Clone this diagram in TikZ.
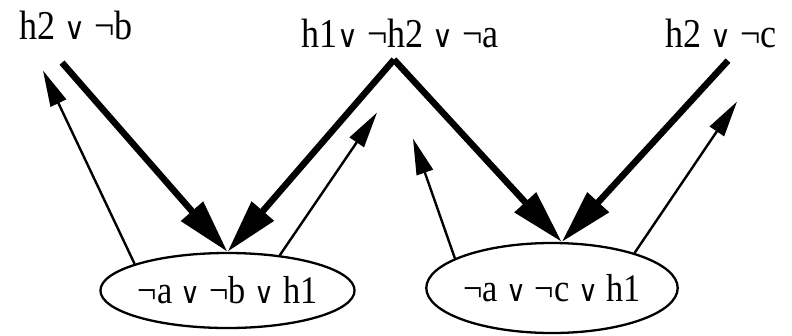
\documentclass[tikz,border=0pt]{standalone}
\usepackage{fontspec}
\setmainfont{Liberation Serif}[FakeStretch=0.88]
\newfontfamily\symfont{DejaVu Sans}
\usetikzlibrary{shapes.geometric,arrows.meta,calc}
\newcommand{\orsym}{{\symfont\scalebox{0.7}[0.75]{∨}}}
\tikzset{
  lit/.style ={anchor=base, inner sep=0pt, font=\fontsize{41}{44}\selectfont},
  cls/.style ={ellipse, draw, line width=2.3pt, inner sep=0pt,
               font=\fontsize{39}{42}\selectfont},
  fl/.style  ={-{Triangle[length=54pt,width=28pt]}, line width=6.5pt},
  bk/.style  ={-{Triangle[length=36pt,width=17pt]}, line width=2.4pt}
}

\begin{document}
\begin{tikzpicture}[x=1pt,y=-1pt]
  \useasboundingbox (0,0) rectangle (792,335);
  % clauses
  \node[lit] (hb)  at (76,39)  {h2 \orsym{} ¬b};
  \node[lit] (hab) at (400,47) {h1\orsym{} ¬h2 \orsym{} ¬a};
  \node[lit] (hc)  at (721,47) {h2 \orsym{} ¬c};
  \node[cls,minimum width=249pt,minimum height=75pt] (lo) at (227.5,290.5)
    {¬a \orsym{} ¬b \orsym{} h1};
  \node[cls,minimum width=250pt,minimum height=90pt] (ro) at (552,288)
    {¬a \orsym{} ¬c \orsym{} h1};
  % resolution
  \draw[fl] ($(hb.south)+(-14,23)$) -- (lo.north);
  \draw[fl] ($(hab.south)+(-6,12)$) -- (lo.north);
  \draw[fl] ($(hab.south)+(-6,12)$) -- (ro.78);
  \draw[fl] ($(hc.south)+(7,13)$) -- (ro.78);
  % back links
  \draw[bk] (lo.164) -- ($(hb.south)+(-33,31)$);
  \draw[bk] (lo.34) -- ($(hab.south)+(-23,65)$);
  \draw[bk] (ro.163) -- ($(hab.south)+(13,91)$);
  \draw[bk] (ro.23) -- ($(hc.south)+(16,54)$);
\end{tikzpicture}
\end{document}
